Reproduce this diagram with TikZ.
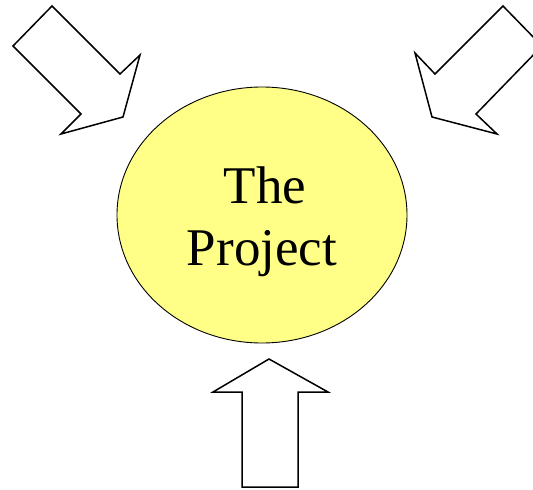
\documentclass[tikz,border=0pt]{standalone}
\usepackage{fontspec}
\setmainfont{Liberation Serif}
\usetikzlibrary{shapes.geometric}
\definecolor{projyellow}{HTML}{FFFF88}
\tikzset{
  blockarrow/.style={draw=black, fill=white, line width=1.5pt, line join=miter},
  projbox/.style={ellipse, draw=black, fill=projyellow, line width=0.9pt, minimum width=290pt, minimum height=256pt, inner sep=0pt},
  projtext/.style={anchor=base, inner sep=0pt, font=\fontsize{53}{62}\selectfont}
}
\begin{document}
\begin{tikzpicture}[x=1pt, y=-1pt]
\useasboundingbox (0,0) rectangle (533,490);
\clip (0,0) rectangle (533,490);
% top-left arrow
\draw[blockarrow] (52,6) -- (120,74) -- (140,55) -- (123,117) -- (61,134) -- (81,114) -- (13,46) -- cycle;
% top-right arrow
\draw[blockarrow] (503,6) -- (542,46) -- (476,114) -- (497,134) -- (432,117) -- (415,53) -- (435,74) -- cycle;
% bottom arrow
\draw[blockarrow] (269,359) -- (328,392) -- (298,392) -- (298,487) -- (242,487) -- (242,392) -- (213,392) -- cycle;
% ellipse
\node[projbox] (proj) at (262,215) {};
\node[projtext] (the) at (265,203) {The};
\node[projtext] (project) at (262,265) {Project};
\end{tikzpicture}
\end{document}
